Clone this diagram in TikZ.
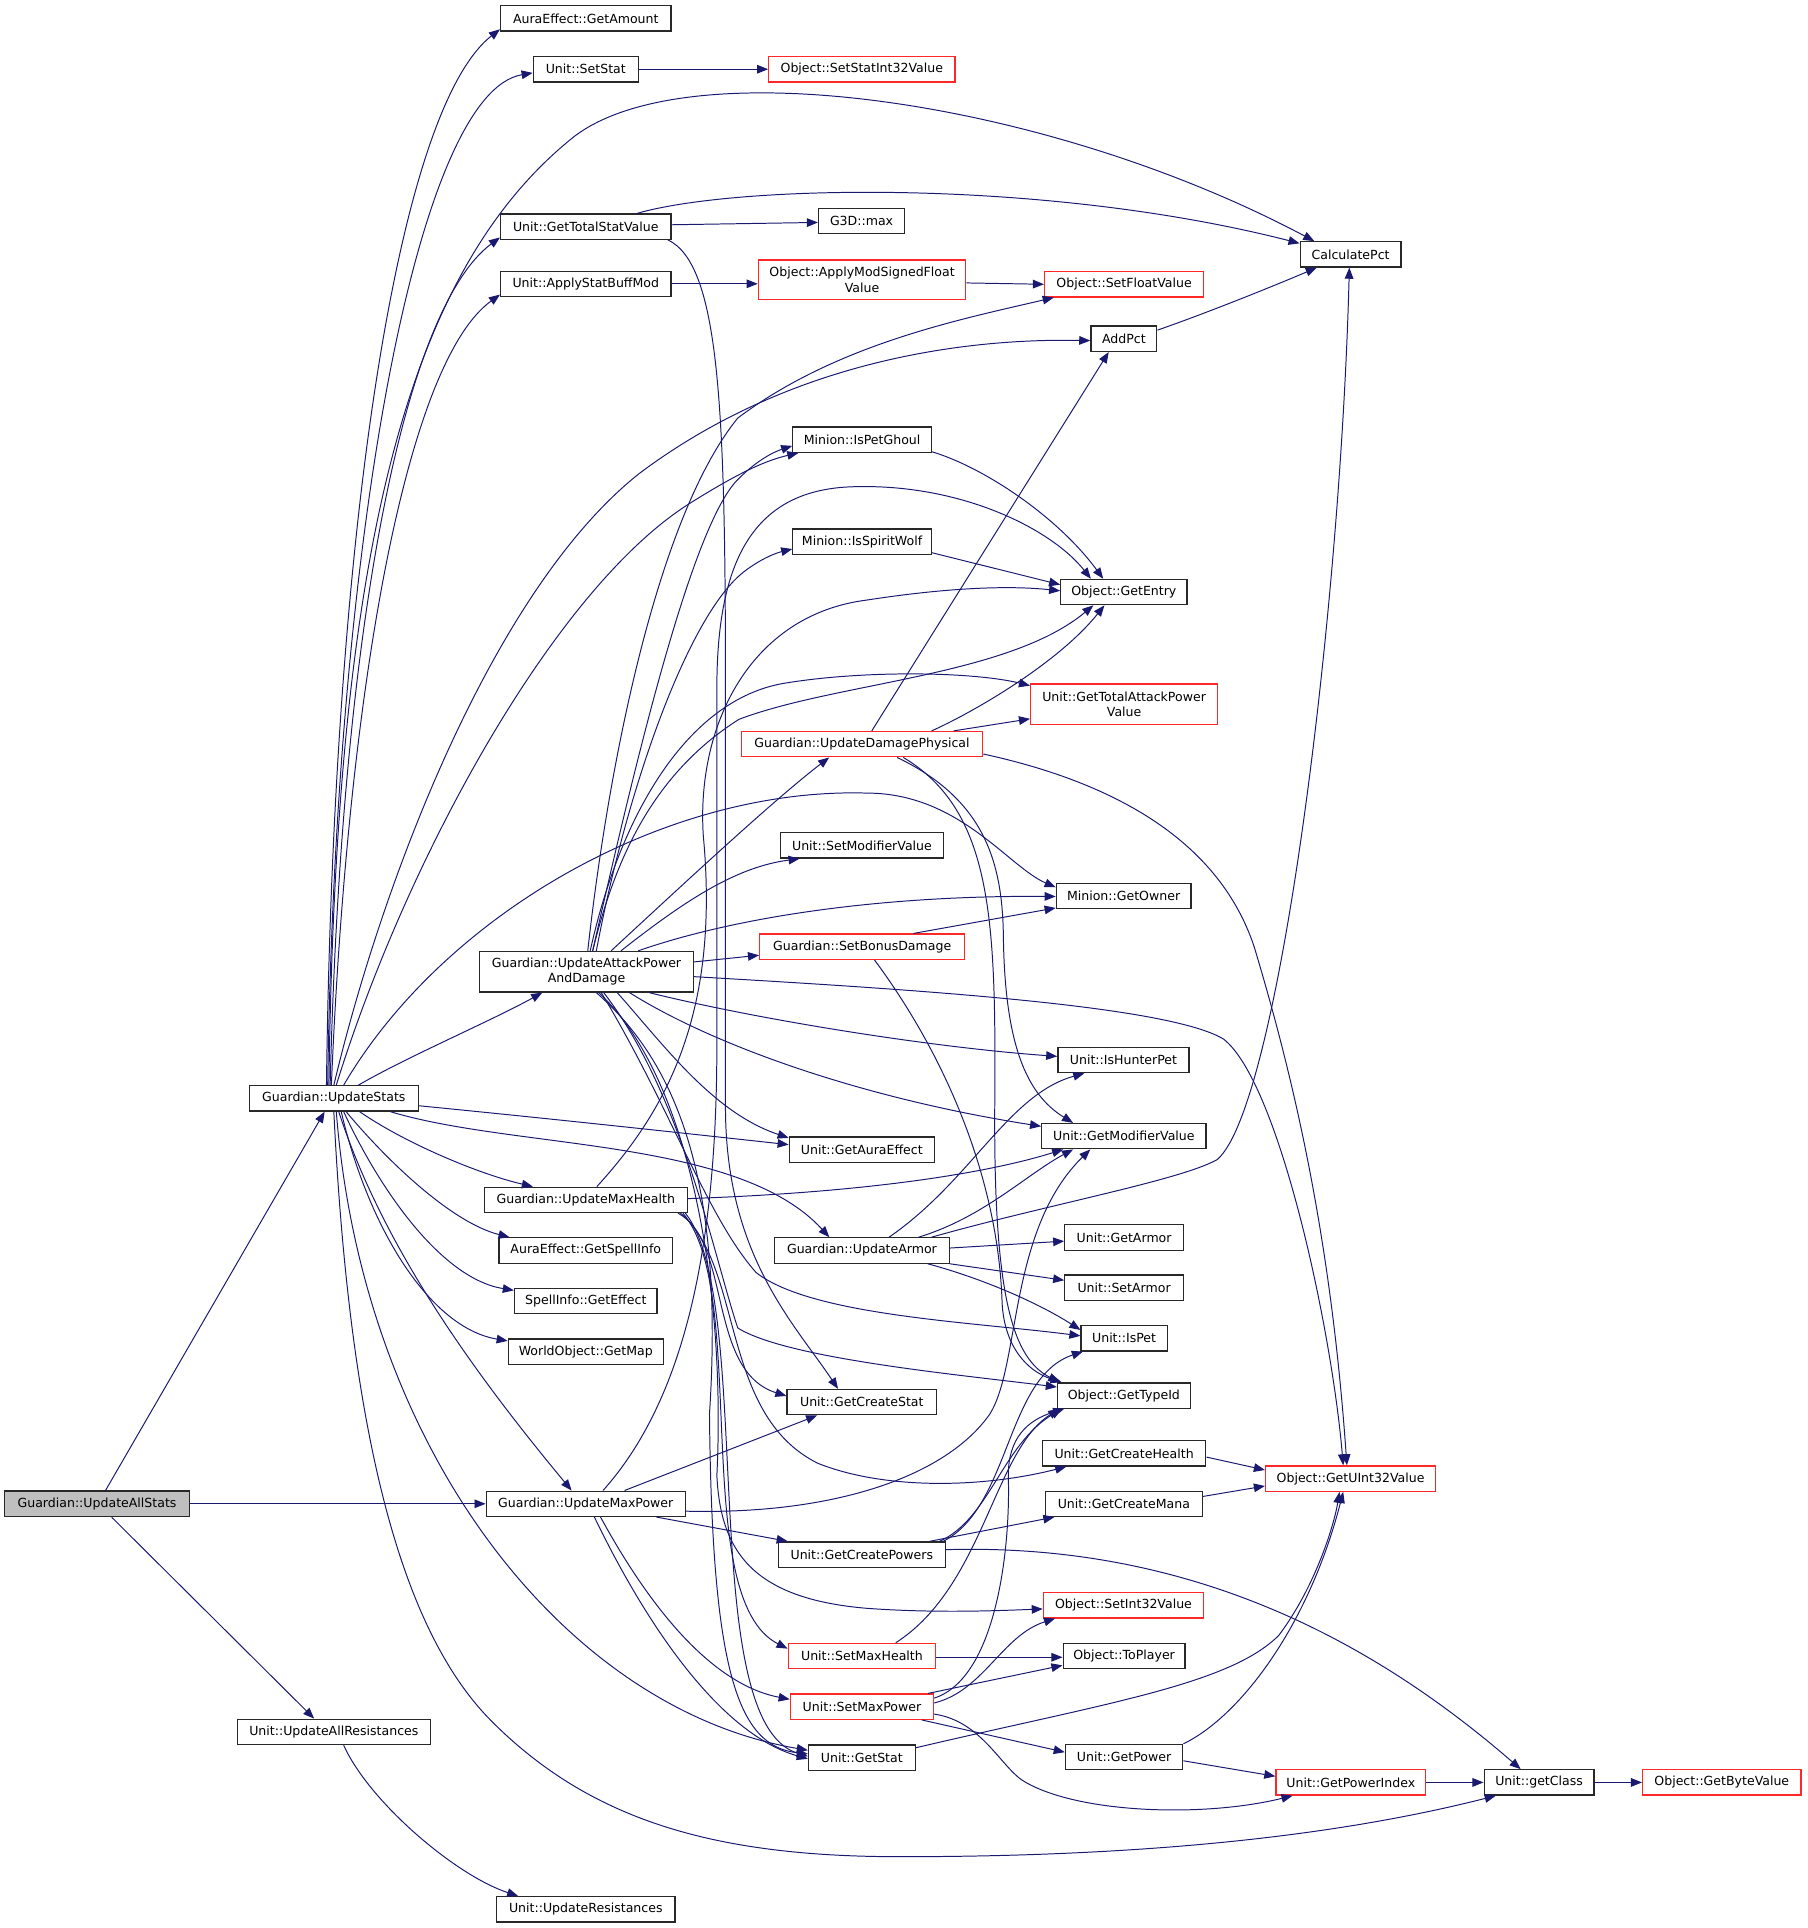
\documentclass[tikz,border=0pt]{standalone}
\usepackage{fontspec}
\newfontfamily\dfont{DejaVu Sans}
\usetikzlibrary{arrows.meta,calc}
\definecolor{edgec}{RGB}{25,25,112}
\definecolor{nred}{RGB}{255,40,40}
\definecolor{nborder}{RGB}{40,40,40}
\definecolor{ngray}{RGB}{191,191,191}
\begin{document}
\begin{tikzpicture}[x=1pt,y=-1pt,
  bx/.style={draw=nborder, fill=white, line width=1pt, inner sep=0pt, minimum height=20.6pt,
    font=\dfont\fontsize{10.2}{12.4}\selectfont, align=center},
  rb/.style={bx, draw=nred},
  ed/.style={draw=edgec, line width=0.8pt, -{Triangle[length=9pt,width=7pt]}}]
\useasboundingbox (0,0) rectangle (1469.6,1568);
% ---------- nodes ----------
\node[bx, minimum width=138.6pt] (gam) at (476.4,15) {AuraEffect::GetAmount};
\node[bx, minimum width=85.4pt] (sst) at (476.4,56.3) {Unit::SetStat};
\node[rb, minimum width=151.4pt] (ssi) at (700.9,56.3) {Object::SetStatInt32Value};
\node[bx, minimum width=138.6pt] (gtsv) at (476.4,184.3) {Unit::GetTotalStatValue};
\node[bx, minimum width=70pt] (gmax) at (700.7,179.9) {G3D::max};
\node[bx, minimum width=82pt] (cpct) at (1098.4,206.9) {CalculatePct};
\node[bx, minimum width=138.6pt] (asbm) at (476.4,230.8) {Unit::ApplyStatBuffMod};
\node[rb, minimum width=168.8pt, minimum height=32.4pt] (amsf) at (701.1,227.6) {Object::ApplyModSignedFloat\\Value};
\node[rb, minimum width=129.4pt] (sfv) at (914.2,231.2) {Object::SetFloatValue};
\node[bx, minimum width=53.6pt] (apct) at (914,275.5) {AddPct};
\node[bx, minimum width=112.6pt] (ipg) at (701.1,357.6) {Minion::IsPetGhoul};
\node[bx, minimum width=112.6pt] (isw) at (701.1,440.5) {Minion::IsSpiritWolf};
\node[bx, minimum width=102.6pt] (gent) at (914,481.5) {Object::GetEntry};
\node[rb, minimum width=152pt, minimum height=32.7pt] (gtap) at (914.2,572.6) {Unit::GetTotalAttackPower\\Value};
\node[rb, minimum width=196.3pt] (udp) at (701,605.2) {Guardian::UpdateDamagePhysical};
\node[bx, minimum width=132.4pt] (smv) at (701,687.5) {Unit::SetModifierValue};
\node[bx, minimum width=109.5pt] (gown) at (913.8,728.6) {Minion::GetOwner};
\node[rb, minimum width=166.8pt] (sbd) at (701.2,769.9) {Guardian::SetBonusDamage};
\node[bx, minimum width=174pt, minimum height=33pt] (apd) at (477,790.3) {Guardian::UpdateAttackPower\\AndDamage};
\node[bx, minimum width=106.7pt] (ihp) at (913.7,862.1) {Unit::IsHunterPet};
\node[bx, minimum width=137.7pt] (usts) at (271.5,893.3) {Guardian::UpdateStats};
\node[bx, minimum width=133.6pt] (gmv) at (914,924) {Unit::GetModifierValue};
\node[bx, minimum width=118pt] (gae) at (700.9,934.9) {Unit::GetAuraEffect};
\node[bx, minimum width=165pt] (umh) at (476.4,975.8) {Guardian::UpdateMaxHealth};
\node[bx, minimum width=142pt] (uarm) at (701,1017) {Guardian::UpdateArmor};
\node[bx, minimum width=96.4pt] (garm) at (914.2,1006.4) {Unit::GetArmor};
\node[bx, minimum width=141pt] (gsi) at (476.4,1017) {AuraEffect::GetSpellInfo};
\node[bx, minimum width=96.4pt] (sarm) at (914.2,1047.2) {Unit::SetArmor};
\node[bx, minimum width=116pt] (gef) at (476.4,1058.2) {SpellInfo::GetEffect};
\node[bx, minimum width=70pt] (ipet) at (914.2,1088.4) {Unit::IsPet};
\node[bx, minimum width=126pt] (gmap) at (476.4,1099.3) {WorldObject::GetMap};
\node[bx, minimum width=108pt] (gtid) at (914,1135) {Object::GetTypeId};
\node[bx, minimum width=121.7pt] (gcs) at (700.9,1140.3) {Unit::GetCreateStat};
\node[bx, minimum width=133pt] (gch) at (914.2,1182) {Unit::GetCreateHealth};
\node[rb, minimum width=138.3pt] (gu32) at (1098.4,1202.5) {Object::GetUInt32Value};
\node[bx, fill=ngray, minimum width=150.3pt, minimum height=21pt] (uas) at (78.9,1223) {Guardian::UpdateAllStats};
\node[bx, minimum width=162pt] (ump) at (476.4,1223) {Guardian::UpdateMaxPower};
\node[bx, minimum width=128pt] (gcm) at (914,1223) {Unit::GetCreateMana};
\node[bx, minimum width=135.5pt] (gcp) at (700.9,1264.3) {Unit::GetCreatePowers};
\node[rb, minimum width=130.3pt] (si32) at (913.7,1305.5) {Object::SetInt32Value};
\node[rb, minimum width=120pt] (smh) at (701,1346.8) {Unit::SetMaxHealth};
\node[bx, minimum width=99.2pt] (tpl) at (914.2,1346.6) {Object::ToPlayer};
\node[rb, minimum width=116.5pt] (smp) at (701,1388) {Unit::SetMaxPower};
\node[bx, minimum width=157.3pt] (uar) at (271.5,1408.5) {Unit::UpdateAllResistances};
\node[bx, minimum width=86.8pt] (gst) at (700.9,1429.4) {Unit::GetStat};
\node[bx, minimum width=95.5pt] (gpow) at (914.2,1429) {Unit::GetPower};
\node[rb, minimum width=121.8pt] (gpi) at (1098.6,1449.6) {Unit::GetPowerIndex};
\node[bx, minimum width=89.4pt] (gcl) at (1251.7,1449.6) {Unit::getClass};
\node[rb, minimum width=128.8pt] (gbv) at (1400.3,1449.6) {Object::GetByteValue};
\node[bx, minimum width=145pt] (ures) at (476.4,1552.8) {Unit::UpdateResistances};
% ---------- edges ----------
% UpdateAllStats
\draw[ed] ($(uas.north)+(7,0)$) -- ($(usts.south)+(-7.5,0)$);
\draw[ed] (uas.east) -- (ump.west);
\draw[ed] ($(uas.south)+(12,0)$) -- ($(uar.north)+(-16,0)$);
\draw[ed] ($(uar.south)+(8,0)$) .. controls (300,1465) and (370,1525) .. ($(ures.north west)+(18,0)$);
% UpdateStats
\draw[ed] ($(usts.north)+(-6,0)$) .. controls (271,440) and (322,90) .. ($(gam.south west)+(0,-2)$);
\draw[ed] ($(usts.north)+(-5,0)$) .. controls (273,430) and (340,75) .. ($(sst.west)+(0,3)$);
\draw[ed] ($(usts.north)+(-4,0)$) .. controls (273,450) and (330,220) .. (467,111) .. controls (560,40) and (850,80) .. ($(cpct.north west)+(12,0)$);
\draw[ed] ($(usts.north)+(-3,0)$) .. controls (278,500) and (330,250) .. ($(gtsv.south west)+(0,-2)$);
\draw[ed] ($(usts.north)+(-2,0)$) .. controls (283,560) and (330,295) .. ($(asbm.south west)+(0,-2)$);
\draw[ed] ($(usts.north)+(0,0)$) .. controls (310,720) and (400,480) .. (520,385) .. controls (640,295) and (780,275) .. ($(apct.west)+(0,1.5)$);
\draw[ed] ($(usts.north)+(2,0)$) .. controls (330,700) and (450,480) .. (560,410) .. controls (595,388) and (620,375) .. ($(ipg.south west)+(5,0)$);
\draw[ed] ($(usts.north)+(8,0)$) .. controls (360,745) and (540,640) .. (705,645) .. controls (780,645) and (820,705) .. ($(gown.west)+(0,-7)$);
\draw[ed] ($(usts.north)+(20,0)$) .. controls (330,860) and (400,830) .. ($(apd.south)+(-36,0)$);
\draw[ed] ($(usts.east)+(0,6)$) .. controls (450,910) and (560,922) .. ($(gae.west)+(0,-4)$);
\draw[ed] ($(usts.south)+(46,0)$) .. controls (420,935) and (600,925) .. ($(uarm.north west)+(45,0)$);
\draw[ed] ($(usts.south)+(21,0)$) .. controls (330,930) and (390,955) .. ($(umh.north west)+(40,0)$);
\draw[ed] ($(usts.south)+(10,0)$) .. controls (320,950) and (370,995) .. ($(gsi.north west)+(9,0)$);
\draw[ed] ($(usts.south)+(8,0)$) .. controls (310,970) and (360,1040) .. ($(gef.north west)+(0,2)$);
\draw[ed] ($(usts.south)+(6,0)$) .. controls (300,1000) and (350,1080) .. ($(gmap.north west)+(0,2)$);
\draw[ed] ($(usts.south)+(4,0)$) .. controls (310,1010) and (380,1110) .. ($(ump.north west)+(70,0)$);
\draw[ed] ($(usts.south)+(2,0)$) .. controls (295,1180) and (460,1390) .. ($(gst.west)+(0,-6)$);
\draw[ed] ($(usts.south)+(0,0)$) .. controls (285,1180) and (330,1330) .. (400,1400) .. controls (480,1480) and (580,1510) .. (732,1510) .. controls (950,1510) and (1100,1490) .. ($(gcl.south west)+(10,0)$);
% GetTotalStatValue, SetStat, ApplyStatBuffMod, AddPct, Minion
\draw[ed] ($(gtsv.north east)+(-28,0)$) .. controls (600,150) and (850,145) .. ($(cpct.west)+(0,-9)$);
\draw[ed] ($(gtsv.east)+(0,-1.5)$) -- ($(gmax.west)+(0,1)$);
\draw[ed] ($(gtsv.south east)+(-3,0)$) .. controls (585,215) and (590,330) .. (590,560) -- (590,900) .. controls (590,1020) and (645,1075) .. ($(gcs.north west)+(42,0)$);
\draw[ed] (sst.east) -- (ssi.west);
\draw[ed] (asbm.east) -- (asbm.east -| amsf.west);
\draw[ed] ($(amsf.east)+(0,2.5)$) -- (sfv.west);
\draw[ed] ($(apct.east)+(0,-7)$) .. controls (980,255) and (1030,235) .. ($(cpct.south west)+(14,0)$);
\draw[ed] ($(ipg.south east)+(0,-1)$) .. controls (800,380) and (860,420) .. ($(gent.north west)+(35,0)$);
\draw[ed] ($(isw.east)+(0,9)$) -- ($(gent.west)+(0,-6)$);
% UpdateAttackPowerAndDamage
\draw[ed] ($(apd.north)+(5,0)$) .. controls (510,650) and (560,430) .. (600,390) .. controls (615,375) and (628,368) .. ($(ipg.west)+(0,5)$);
\draw[ed] ($(apd.north)+(1,0)$) .. controls (495,620) and (535,420) .. (600,340) .. controls (680,280) and (780,260) .. ($(sfv.south west)+(8,0)$);
\draw[ed] ($(apd.north)+(8,0)$) .. controls (510,640) and (560,500) .. (605,465) .. controls (618,455) and (630,450) .. ($(isw.west)+(0,6)$);
\draw[ed] ($(apd.north)+(5,0)$) .. controls (500,700) and (530,630) .. (601,585) .. controls (680,555) and (820,550) .. ($(gent.south west)+(27,0)$);
\draw[ed] ($(apd.north)+(3,0)$) .. controls (505,660) and (560,570) .. (636,556) .. controls (700,545) and (790,546) .. ($(gtap.west)+(0,-15)$);
\draw[ed] ($(apd.north)+(20,0)$) .. controls (560,715) and (630,650) .. ($(udp.south west)+(72,0)$);
\draw[ed] ($(apd.north)+(28,0)$) .. controls (560,730) and (600,705) .. ($(smv.south west)+(16,0)$);
\draw[ed] ($(apd.north)+(42,0)$) .. controls (600,745) and (720,728) .. ($(gown.west)+(0,0.5)$);
\draw[ed] ($(apd.east)+(0,-8)$) -- ($(sbd.west)+(0,7)$);
\draw[ed] ($(apd.east)+(0,4)$) .. controls (750,805) and (950,818) .. (995,845) .. controls (1040,880) and (1083,1080) .. ($(gu32.north)+(-6,0)$);
\draw[ed] ($(apd.south)+(51,0)$) .. controls (620,830) and (760,852) .. ($(ihp.west)+(0,-3)$);
\draw[ed] ($(apd.south)+(35,0)$) .. controls (580,850) and (700,893) .. ($(gmv.west)+(0,-8)$);
\draw[ed] ($(apd.south)+(25,0)$) .. controls (540,850) and (580,905) .. ($(gae.west)+(0,-9.5)$);
\draw[ed] ($(apd.south)+(8,0)$) .. controls (545,860) and (590,950) .. (577,1150) .. controls (579,1360) and (600,1420) .. ($(gst.west)+(0,-3)$);
\draw[ed] ($(apd.south)+(12,0)$) .. controls (545,900) and (575,990) .. (615,1035) .. controls (660,1070) and (790,1075) .. ($(ipet.west)+(0,-2)$);
\draw[ed] ($(apd.south)+(14,0)$) .. controls (555,890) and (580,1020) .. (600,1080) .. controls (640,1105) and (780,1118) .. ($(gtid.west)+(0,-7)$);
\draw[ed] ($(apd.south)+(10,0)$) .. controls (565,880) and (590,1060) .. (583,1200) .. controls (586,1260) and (610,1300) .. (705,1308) .. controls (760,1312) and (810,1310) .. ($(si32.west)+(0,3)$);
% UpdateMaxHealth
\draw[ed] ($(umh.north)+(9,0)$) .. controls (545,900) and (585,820) .. (572,680) .. controls (566,590) and (610,500) .. (705,488) .. controls (770,478) and (820,476) .. ($(gent.west)+(0,-1)$);
\draw[ed] ($(umh.east)+(0,-1)$) .. controls (700,970) and (800,955) .. ($(gmv.south west)+(18,0)$);
\draw[ed] ($(umh.south east)+(-8,0)$) .. controls (595,1010) and (575,1115) .. ($(gcs.west)+(0,-5)$);
\draw[ed] ($(umh.south east)+(-6,0)$) .. controls (605,1030) and (585,1150) .. (665,1190) .. controls (720,1212) and (800,1210) .. ($(gch.south west)+(20,0)$);
\draw[ed] ($(umh.south east)+(-4,0)$) .. controls (610,1050) and (560,1300) .. ($(smh.west)+(0,-6)$);
\draw[ed] ($(umh.south east)+(-2,0)$) .. controls (615,1060) and (565,1400) .. ($(gst.west)+(0,-1)$);
% UpdateMaxPower
\draw[ed] ($(ump.north)+(14,0)$) .. controls (555,1140) and (583,1020) .. (583,850) -- (583,560) .. controls (583,460) and (610,400) .. (690,396) .. controls (780,392) and (855,430) .. ($(gent.north west)+(25,0)$);
\draw[ed] ($(ump.north east)+(-50,0)$) -- ($(gcs.south west)+(25,0)$);
\draw[ed] ($(ump.south east)+(-24,0)$) -- ($(gcp.north west)+(8,0)$);
\draw[ed] ($(ump.east)+(0,6)$) .. controls (680,1232) and (770,1200) .. (805,1150) .. controls (830,1110) and (820,1000) .. ($(gmv.south west)+(40,0)$);
\draw[ed] ($(ump.south)+(12,0)$) .. controls (530,1310) and (580,1370) .. ($(smp.west)+(0,-6)$);
\draw[ed] ($(ump.south)+(7,0)$) .. controls (525,1320) and (585,1410) .. ($(gst.west)+(0,1)$);
% UpdateArmor
\draw[ed] ($(uarm.north)+(22,0)$) .. controls (790,960) and (820,890) .. ($(ihp.south west)+(22,0)$);
\draw[ed] ($(uarm.north)+(46,0)$) .. controls (800,990) and (835,955) .. ($(gmv.south west)+(26,0)$);
\draw[ed] ($(uarm.north east)+(-15,0)$) .. controls (850,980) and (960,960) .. (990,943) .. controls (1040,900) and (1090,500) .. ($(cpct.south)+(-1,0)$);
\draw[ed] ($(uarm.east)+(0,-2)$) -- ($(garm.west)+(0,3)$);
\draw[ed] (uarm.south east) -- ($(sarm.west)+(0,-6)$);
\draw[ed] ($(uarm.south east)+(-18,0)$) .. controls (800,1040) and (845,1060) .. ($(ipet.north west)+(0,4)$);
% UpdateDamagePhysical
\draw[ed] ($(udp.north)+(8,0)$) -- ($(apct.south west)+(15,0)$);
\draw[ed] ($(udp.north east)+(-42,0)$) .. controls (790,580) and (860,540) .. ($(gent.south west)+(36,0)$);
\draw[ed] ($(udp.north east)+(-24,0)$) -- ($(gtap.west)+(0,12)$);
\draw[ed] ($(udp.east)+(0,8)$) .. controls (900,635) and (990,680) .. (1020,770) .. controls (1050,870) and (1082,1000) .. ($(gu32.north)+(-3,0)$);
\draw[ed] ($(udp.south east)+(-70,0)$) .. controls (800,650) and (815,700) .. (816,760) .. controls (817,850) and (835,890) .. ($(gmv.north west)+(26,0)$);
\draw[ed] ($(udp.south east)+(-65,0)$) .. controls (808,660) and (810,750) .. (809,900) .. controls (808,1060) and (825,1105) .. ($(gtid.north west)+(2,0)$);
% SetBonusDamage
\draw[ed] ($(sbd.north east)+(-42,0)$) -- ($(gown.south west)+(0,-1)$);
\draw[ed] ($(sbd.south)+(10,0)$) .. controls (770,860) and (812,960) .. (815,1060) .. controls (817,1095) and (835,1115) .. ($(gtid.north west)+(4,0)$);
% GetCreatePowers
\draw[ed] ($(gcp.north east)+(-13,0)$) -- ($(gcm.south west)+(8,0)$);
\draw[ed] ($(gcp.north east)+(-5,0)$) .. controls (805,1235) and (815,1175) .. ($(gtid.south west)+(4,0)$);
\draw[ed] ($(gcp.north east)+(-2,0)$) .. controls (822,1225) and (818,1120) .. ($(ipet.south west)+(2,0)$);
\draw[ed] ($(gcp.east)+(0,-4)$) .. controls (950,1255) and (1100,1320) .. ($(gcl.north)+(-15,0)$);
% GetCreateHealth / Mana
\draw[ed] ($(gch.east)+(0,3)$) -- ($(gu32.west)+(0,-7)$);
\draw[ed] ($(gcm.east)+(0,-6)$) -- ($(gu32.west)+(0,6)$);
% SetMaxHealth
\draw[ed] ($(smh.east)+(0,1)$) -- ($(tpl.west)+(0,1.2)$);
\draw[ed] ($(smh.north east)+(-33,0)$) .. controls (800,1290) and (808,1180) .. ($(gtid.south west)+(2,0)$);
% SetMaxPower
\draw[ed] ($(smp.north east)+(-5,0)$) -- ($(tpl.south west)+(0,-3)$);
\draw[ed] ($(smp.east)+(0,-3)$) .. controls (800,1375) and (815,1330) .. ($(si32.south west)+(10,0)$);
\draw[ed] ($(smp.east)+(0,-7)$) .. controls (810,1365) and (822,1260) .. (820,1200) .. controls (820,1170) and (835,1155) .. ($(gtid.south west)+(6,0)$);
\draw[ed] ($(smp.south east)+(-10,0)$) -- ($(gpow.west)+(0,-4)$);
\draw[ed] ($(smp.east)+(0,6)$) .. controls (800,1400) and (815,1440) .. (835,1450) .. controls (880,1475) and (980,1478) .. ($(gpi.south west)+(14,0)$);
% GetStat, GetPower, GetPowerIndex, getClass
\draw[ed] ($(gst.east)+(0,-8)$) .. controls (900,1385) and (1000,1370) .. (1040,1330) .. controls (1070,1290) and (1085,1240) .. ($(gu32.south)+(-9,0)$);
\draw[ed] (gpow.north east) .. controls (1010,1395) and (1065,1320) .. ($(gu32.south)+(-6,0)$);
\draw[ed] ($(gpow.east)+(0,3)$) -- ($(gpi.west)+(0,-5)$);
\draw[ed] (gpi.east) -- (gcl.west);
\draw[ed] (gcl.east) -- (gbv.west);
\end{tikzpicture}
\end{document}
